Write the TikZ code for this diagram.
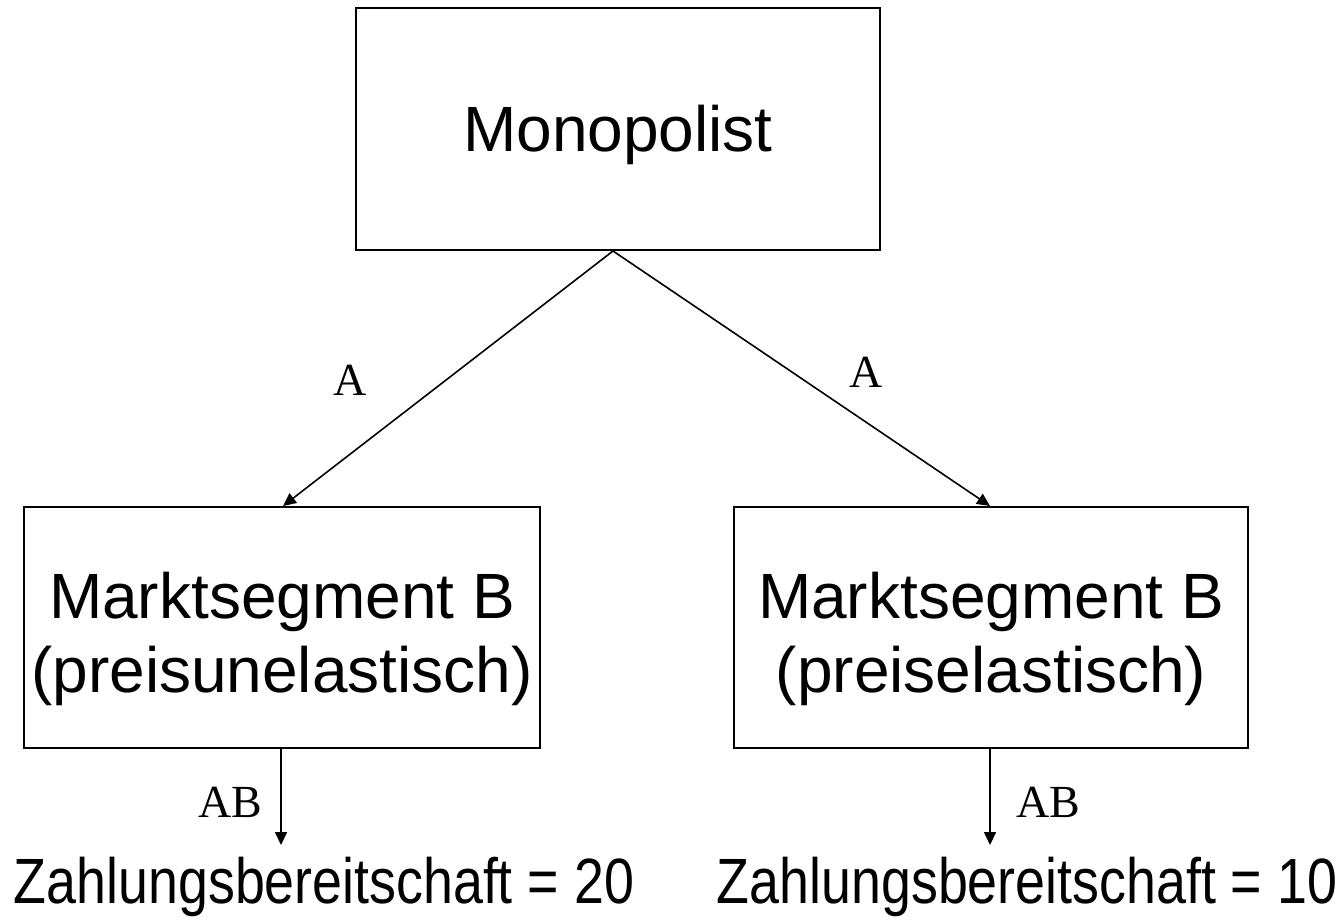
\documentclass[tikz,border=0pt]{standalone}
\usepackage{fontspec}
\setmainfont{Liberation Sans}
\newfontfamily\timesf{Liberation Serif}
\usetikzlibrary{arrows.meta}
\tikzset{
  box/.style={draw, line width=2pt, inner sep=0pt, align=center,
    font=\fontsize{64}{74}\selectfont},
  conn/.style={line width=1.6pt, -{Triangle[length=13pt,width=12pt]}},
  lbl/.style={font=\timesf\fontsize{46}{50}\selectfont, inner sep=0pt},
  bottomtext/.style={font=\fontsize{64}{70}\selectfont, inner sep=0pt, xscale=0.84}
}
\begin{document}
\begin{tikzpicture}[x=1pt,y=-1pt]
\useasboundingbox (0,0) rectangle (1343,921);
\node[box, minimum width=524pt, minimum height=242pt] (mono) at (618,129) {\rule{0pt}{59pt}Monopolist};
\node[box, minimum width=516pt, minimum height=241pt] (left) at (282,627.5) {\rule{0pt}{69pt}Marktsegment B\\(preisunelastisch)};
\node[box, minimum width=514pt, minimum height=241pt] (right) at (991,627.5) {\rule{0pt}{69pt}Marktsegment B\\(preiselastisch)};
\draw[conn] ([xshift=-5pt]mono.south) -- ([xshift=1pt]left.north);
\draw[conn] ([xshift=-5pt]mono.south) -- ([xshift=-1pt]right.north);
\node[lbl] (la) at (350,380) {A};
\node[lbl] (ra) at (866,372) {A};
\coordinate (lend) at (281,845);
\coordinate (rend) at (990,845);
\draw[conn] (left.south -| lend) -- (lend);
\draw[conn] (right.south -| rend) -- (rend);
\node[lbl] (lab) at (230,802) {AB};
\node[lbl] (rab) at (1048,802) {AB};
\node[bottomtext] (lz) at (324,887) {Zahlungsbereitschaft = 20};
\node[bottomtext] (rz) at (1027,887) {Zahlungsbereitschaft = 10};
\end{tikzpicture}
\end{document}
